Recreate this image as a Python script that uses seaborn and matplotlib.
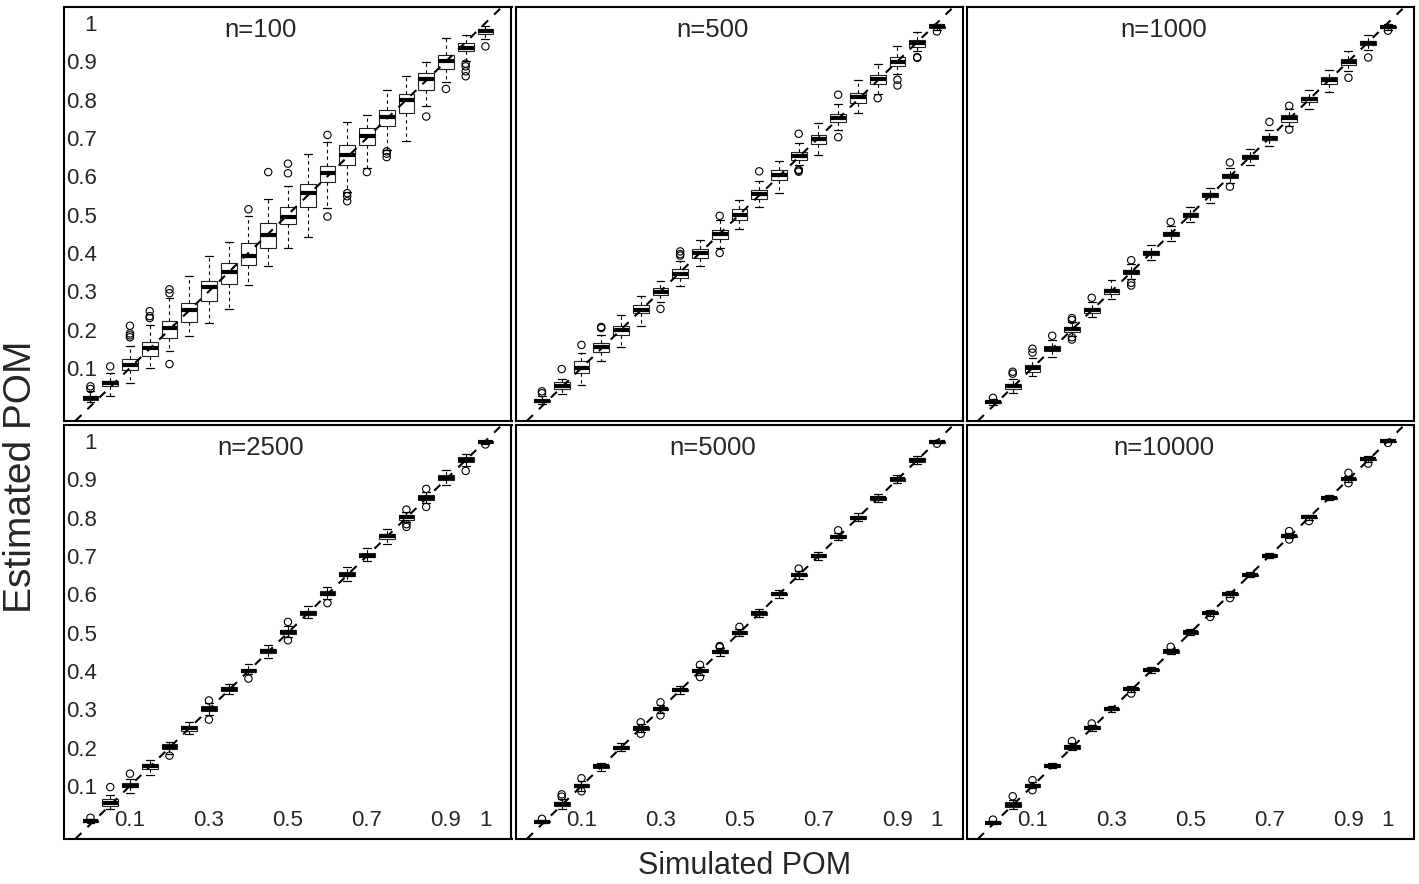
import numpy as np
import pandas as pd
import matplotlib
matplotlib.use("Agg")
import matplotlib.pyplot as plt
import seaborn as sns

# ---------------- data ----------------
POS = [0.0, 0.05, 0.10, 0.15, 0.20, 0.25, 0.30, 0.35, 0.40, 0.45, 0.50,
       0.55, 0.60, 0.65, 0.70, 0.75, 0.80, 0.85, 0.90, 0.95, 1.0]

PANEL_TITLES = ["n=100", "n=500", "n=1000", "n=2500", "n=5000", "n=10000"]

X_TICKS = [0.0, 0.1, 0.2, 0.3, 0.4, 0.5, 0.6, 0.7, 0.8, 0.9, 1.0]
X_TICK_LABELS = ["", "0.1", "", "0.3", "", "0.5", "", "0.7", "", "0.9", "1"]
Y_TICKS = [0.0, 0.1, 0.2, 0.3, 0.4, 0.5, 0.6, 0.7, 0.8, 0.9, 1.0]
Y_TICK_LABELS = ["", "0.1", "0.2", "0.3", "0.4", "0.5", "0.6", "0.7", "0.8", "0.9", "1"]

# n = 100
N100_LO = [0.010, 0.028, 0.061, 0.100, 0.143, 0.182, 0.217, 0.255, 0.317, 0.365, 0.413,
           0.441, 0.517, 0.559, 0.621, 0.669, 0.693, 0.784, 0.845, 0.902, 0.958]
N100_Q1 = [0.017, 0.052, 0.094, 0.132, 0.178, 0.220, 0.274, 0.320, 0.368, 0.413, 0.476,
           0.521, 0.584, 0.630, 0.681, 0.730, 0.765, 0.826, 0.881, 0.926, 0.972]
N100_MED = [0.022, 0.061, 0.107, 0.152, 0.204, 0.250, 0.311, 0.349, 0.393, 0.447, 0.495,
            0.556, 0.608, 0.656, 0.704, 0.754, 0.798, 0.855, 0.900, 0.936, 0.978]
N100_Q3 = [0.028, 0.067, 0.124, 0.168, 0.222, 0.269, 0.328, 0.375, 0.426, 0.478, 0.520,
           0.581, 0.627, 0.681, 0.726, 0.774, 0.816, 0.869, 0.917, 0.948, 0.984]
N100_HI = [0.039, 0.087, 0.158, 0.213, 0.282, 0.339, 0.393, 0.428, 0.497, 0.540, 0.574,
           0.659, 0.689, 0.741, 0.761, 0.826, 0.861, 0.897, 0.961, 0.968, 0.993]
N100_OUT_X = [0.0, 0.0, 0.05, 0.10, 0.10, 0.10, 0.10, 0.15, 0.15, 0.15, 0.20, 0.20, 0.20,
              0.40, 0.45, 0.50, 0.50, 0.60, 0.60, 0.65, 0.65, 0.65, 0.70, 0.75, 0.75, 0.75,
              0.85, 0.90, 0.95, 0.95, 0.95, 0.95, 1.0]
N100_OUT_Y = [0.045, 0.052, 0.104, 0.180, 0.185, 0.190, 0.210, 0.230, 0.235, 0.248, 0.295, 0.305, 0.110,
              0.514, 0.611, 0.608, 0.633, 0.708, 0.495, 0.556, 0.548, 0.535, 0.611, 0.665, 0.659, 0.650,
              0.756, 0.828, 0.894, 0.887, 0.874, 0.861, 0.939]

# n = 500
N500_LO = [0.007, 0.032, 0.056, 0.119, 0.155, 0.210, 0.271, 0.313, 0.367, 0.413, 0.462,
           0.520, 0.556, 0.630, 0.656, 0.720, 0.765, 0.815, 0.868, 0.926, 0.983]
N500_Q1 = [0.010, 0.045, 0.087, 0.141, 0.187, 0.242, 0.289, 0.334, 0.387, 0.437, 0.487,
           0.541, 0.591, 0.642, 0.685, 0.741, 0.791, 0.841, 0.887, 0.937, 0.988]
N500_MED = [0.013, 0.054, 0.100, 0.154, 0.198, 0.252, 0.298, 0.346, 0.400, 0.449, 0.500,
            0.554, 0.604, 0.654, 0.697, 0.752, 0.806, 0.855, 0.898, 0.948, 0.991]
N500_Q3 = [0.017, 0.062, 0.117, 0.165, 0.210, 0.265, 0.309, 0.358, 0.410, 0.461, 0.515,
           0.565, 0.617, 0.663, 0.709, 0.763, 0.817, 0.865, 0.911, 0.956, 0.993]
N500_HI = [0.026, 0.072, 0.140, 0.187, 0.239, 0.288, 0.328, 0.380, 0.434, 0.487, 0.539,
           0.587, 0.641, 0.688, 0.739, 0.789, 0.852, 0.894, 0.939, 0.976, 0.997]
N500_OUT_X = [0.0, 0.0, 0.05, 0.10, 0.15, 0.15, 0.30, 0.35, 0.35, 0.35, 0.45, 0.45, 0.55,
              0.65, 0.65, 0.65, 0.65, 0.75, 0.75, 0.85, 0.90, 0.90, 0.95, 0.95, 1.0]
N500_OUT_Y = [0.034, 0.039, 0.097, 0.160, 0.204, 0.207, 0.254, 0.393, 0.397, 0.404, 0.497, 0.400, 0.613,
              0.711, 0.612, 0.615, 0.617, 0.813, 0.702, 0.804, 0.852, 0.837, 0.911, 0.909, 0.978]

# n = 1000
N1000_LO = [0.004, 0.035, 0.080, 0.128, 0.182, 0.232, 0.280, 0.331, 0.382, 0.430, 0.482,
            0.530, 0.582, 0.630, 0.680, 0.730, 0.776, 0.819, 0.875, 0.930, 0.983]
N1000_Q1 = [0.008, 0.045, 0.090, 0.143, 0.195, 0.244, 0.294, 0.344, 0.395, 0.445, 0.495,
            0.545, 0.595, 0.645, 0.695, 0.743, 0.795, 0.841, 0.891, 0.942, 0.986]
N1000_MED = [0.011, 0.052, 0.099, 0.150, 0.201, 0.250, 0.300, 0.350, 0.400, 0.450, 0.500,
             0.550, 0.600, 0.650, 0.700, 0.752, 0.801, 0.850, 0.898, 0.948, 0.990]
N1000_Q3 = [0.014, 0.058, 0.107, 0.157, 0.207, 0.256, 0.306, 0.356, 0.405, 0.455, 0.505,
            0.556, 0.606, 0.656, 0.706, 0.761, 0.808, 0.860, 0.905, 0.953, 0.992]
N1000_HI = [0.019, 0.072, 0.125, 0.172, 0.220, 0.272, 0.330, 0.370, 0.420, 0.470, 0.520,
            0.570, 0.622, 0.672, 0.722, 0.775, 0.826, 0.878, 0.928, 0.968, 0.997]
N1000_OUT_X = [0.0, 0.05, 0.05, 0.10, 0.10, 0.15, 0.20, 0.20, 0.20, 0.20, 0.25, 0.35, 0.35, 0.35,
               0.45, 0.60, 0.60, 0.70, 0.75, 0.75, 0.90, 0.95, 1.0]
N1000_OUT_Y = [0.022, 0.085, 0.090, 0.140, 0.150, 0.184, 0.225, 0.230, 0.174, 0.180, 0.283, 0.381, 0.322, 0.315,
               0.481, 0.636, 0.573, 0.742, 0.784, 0.722, 0.857, 0.910, 0.980]

# n = 2500
N2500_LO = [0.003, 0.039, 0.082, 0.128, 0.184, 0.235, 0.284, 0.339, 0.391, 0.435, 0.489,
            0.537, 0.589, 0.634, 0.686, 0.730, 0.789, 0.838, 0.884, 0.934, 0.993]
N2500_Q1 = [0.006, 0.048, 0.096, 0.145, 0.196, 0.243, 0.296, 0.347, 0.397, 0.447, 0.496,
            0.545, 0.597, 0.647, 0.697, 0.745, 0.795, 0.845, 0.897, 0.946, 0.995]
N2500_MED = [0.009, 0.056, 0.101, 0.151, 0.201, 0.250, 0.300, 0.352, 0.401, 0.451, 0.501,
             0.550, 0.601, 0.651, 0.701, 0.751, 0.801, 0.851, 0.903, 0.951, 0.997]
N2500_Q3 = [0.011, 0.065, 0.108, 0.158, 0.209, 0.256, 0.308, 0.358, 0.406, 0.458, 0.508,
            0.557, 0.609, 0.658, 0.709, 0.758, 0.808, 0.858, 0.912, 0.957, 0.999]
N2500_HI = [0.014, 0.076, 0.119, 0.167, 0.215, 0.267, 0.317, 0.367, 0.417, 0.467, 0.517,
            0.569, 0.619, 0.670, 0.722, 0.771, 0.814, 0.866, 0.925, 0.967, 1.001]
N2500_OUT_X = [0.0, 0.05, 0.10, 0.20, 0.30, 0.30, 0.40, 0.50, 0.50, 0.60, 0.80, 0.80, 0.80,
               0.85, 0.85, 0.95, 1.0]
N2500_OUT_Y = [0.017, 0.097, 0.132, 0.179, 0.323, 0.273, 0.380, 0.528, 0.480, 0.577, 0.821, 0.783, 0.776,
               0.875, 0.828, 0.922, 0.991]

# n = 5000
N5000_LO = [0.002, 0.040, 0.088, 0.140, 0.190, 0.240, 0.290, 0.341, 0.390, 0.440, 0.490,
            0.541, 0.591, 0.641, 0.690, 0.741, 0.791, 0.842, 0.890, 0.940, 0.994]
N5000_Q1 = [0.005, 0.047, 0.096, 0.147, 0.197, 0.247, 0.297, 0.347, 0.397, 0.446, 0.497,
            0.547, 0.597, 0.647, 0.697, 0.747, 0.797, 0.847, 0.896, 0.946, 0.996]
N5000_MED = [0.007, 0.052, 0.100, 0.151, 0.200, 0.250, 0.300, 0.350, 0.400, 0.450, 0.500,
             0.550, 0.600, 0.650, 0.700, 0.750, 0.800, 0.851, 0.900, 0.951, 0.998]
N5000_Q3 = [0.009, 0.057, 0.104, 0.154, 0.204, 0.254, 0.304, 0.354, 0.404, 0.454, 0.503,
            0.554, 0.604, 0.654, 0.704, 0.754, 0.804, 0.855, 0.904, 0.955, 0.999]
N5000_HI = [0.012, 0.066, 0.112, 0.161, 0.212, 0.261, 0.311, 0.360, 0.411, 0.460, 0.510,
            0.561, 0.611, 0.660, 0.711, 0.761, 0.811, 0.861, 0.912, 0.962, 1.001]
N5000_OUT_X = [0.0, 0.05, 0.05, 0.10, 0.10, 0.25, 0.25, 0.30, 0.30, 0.40, 0.40, 0.45, 0.45,
               0.50, 0.65, 0.75, 1.0]
N5000_OUT_Y = [0.014, 0.072, 0.078, 0.120, 0.086, 0.266, 0.236, 0.318, 0.284, 0.416, 0.384, 0.465, 0.462,
               0.515, 0.667, 0.767, 0.993]

# n = 10000
N10000_LO = [0.001, 0.041, 0.094, 0.146, 0.193, 0.244, 0.293, 0.346, 0.395, 0.444, 0.493,
             0.544, 0.594, 0.645, 0.694, 0.746, 0.795, 0.845, 0.894, 0.946, 0.997]
N10000_Q1 = [0.002, 0.045, 0.097, 0.150, 0.197, 0.248, 0.297, 0.350, 0.400, 0.448, 0.497,
             0.548, 0.598, 0.649, 0.697, 0.750, 0.799, 0.849, 0.899, 0.950, 0.998]
N10000_MED = [0.004, 0.051, 0.101, 0.153, 0.201, 0.252, 0.301, 0.353, 0.403, 0.451, 0.501,
              0.551, 0.601, 0.651, 0.701, 0.752, 0.801, 0.851, 0.901, 0.952, 0.999]
N10000_Q3 = [0.006, 0.058, 0.106, 0.156, 0.206, 0.256, 0.304, 0.356, 0.406, 0.454, 0.504,
             0.554, 0.604, 0.654, 0.704, 0.755, 0.803, 0.854, 0.904, 0.954, 1.000]
N10000_HI = [0.008, 0.063, 0.110, 0.160, 0.211, 0.260, 0.308, 0.360, 0.410, 0.458, 0.509,
             0.558, 0.609, 0.658, 0.709, 0.759, 0.807, 0.858, 0.910, 0.960, 1.001]
N10000_OUT_X = [0.0, 0.05, 0.10, 0.10, 0.20, 0.25, 0.35, 0.45, 0.55, 0.60, 0.75, 0.75, 0.80,
                0.90, 0.90, 0.95, 1.0]
N10000_OUT_Y = [0.012, 0.073, 0.115, 0.089, 0.217, 0.263, 0.341, 0.463, 0.541, 0.590, 0.765, 0.743, 0.791,
                0.917, 0.890, 0.941, 0.995]

PANELS = [
    (N100_LO, N100_Q1, N100_MED, N100_Q3, N100_HI, N100_OUT_X, N100_OUT_Y),
    (N500_LO, N500_Q1, N500_MED, N500_Q3, N500_HI, N500_OUT_X, N500_OUT_Y),
    (N1000_LO, N1000_Q1, N1000_MED, N1000_Q3, N1000_HI, N1000_OUT_X, N1000_OUT_Y),
    (N2500_LO, N2500_Q1, N2500_MED, N2500_Q3, N2500_HI, N2500_OUT_X, N2500_OUT_Y),
    (N5000_LO, N5000_Q1, N5000_MED, N5000_Q3, N5000_HI, N5000_OUT_X, N5000_OUT_Y),
    (N10000_LO, N10000_Q1, N10000_MED, N10000_Q3, N10000_HI, N10000_OUT_X, N10000_OUT_Y),
]

# ---------------- style ----------------
sns.set_style("white")
plt.rcParams["font.family"] = ["Liberation Sans", "DejaVu Sans"]

W, H = 1419, 884
fig = plt.figure(figsize=(W / 100, H / 100), dpi=100)

col_left = [64, 515.5, 966.5]
panel_w = 447.5
row_top = [7.3, 425.3]
panel_h = 413.5


def box_frame(lo, q1, med, q3, hi):
    rows = []
    for p, a, b, c, d, e in zip(POS, lo, q1, med, q3, hi):
        for v in (a, b, c, d, e):
            rows.append((p, v))
    return pd.DataFrame(rows, columns=["sim", "est"])


for i, (lo, q1, med, q3, hi, ox, oy) in enumerate(PANELS):
    r, c = divmod(i, 3)
    left = col_left[c] / W
    bottom = 1 - (row_top[r] + panel_h) / H
    ax = fig.add_axes([left, bottom, panel_w / W, panel_h / H])

    df = box_frame(lo, q1, med, q3, hi)
    sns.boxplot(data=df, x="sim", y="est", native_scale=True, orient="x",
                whis=(0, 100), width=0.8, color="white", linecolor="black",
                linewidth=0.8, fill=True, showfliers=False,
                whiskerprops=dict(linestyle=(0, (3, 3)), linewidth=0.8),
                capprops=dict(linestyle="-", linewidth=0.9),
                medianprops=dict(linewidth=3.0, color="black"),
                boxprops=dict(edgecolor="#222222", linewidth=0.8),
                ax=ax)
    odf = pd.DataFrame({"sim": ox, "est": oy})
    sns.scatterplot(data=odf, x="sim", y="est", marker="o", s=28,
                    color="black", facecolor="none", edgecolor="black",
                    linewidth=0.8, ax=ax, zorder=4)
    ax.axline((0, 0), slope=1, color="black", linewidth=1.5,
              linestyle=(0, (4, 4)), zorder=5)

    ax.set_xlim(-0.067, 1.066)
    ax.set_ylim(-0.038, 1.041)
    ax.set_xlabel("")
    ax.set_ylabel("")

    if c == 0:
        ax.set_yticks(Y_TICKS)
        ax.set_yticklabels(Y_TICK_LABELS)
        ax.tick_params(axis="y", direction="in", length=4, width=1.1,
                       pad=-23.6, labelsize=16)
    else:
        ax.set_yticks([])
    if r == 1:
        ax.set_xticks(X_TICKS)
        ax.set_xticklabels(X_TICK_LABELS)
        ax.tick_params(axis="x", direction="in", length=4, width=1.1,
                       pad=-21.0, labelsize=16)
    else:
        ax.set_xticks([])

    for sp in ax.spines.values():
        sp.set_visible(True)
        sp.set_color("black")
        sp.set_linewidth(1.5)

    ax.text(0.44, 0.945, PANEL_TITLES[i], transform=ax.transAxes,
            ha="center", va="center", fontsize=18.5)

fig.text(21 / W, 1 - 477 / H, "Estimated POM", rotation=90,
         ha="center", va="center", fontsize=28)
fig.text(745 / W, 1 - 866 / H, "Simulated POM",
         ha="center", va="center", fontsize=22)

fig.savefig("out.png", dpi=100)
